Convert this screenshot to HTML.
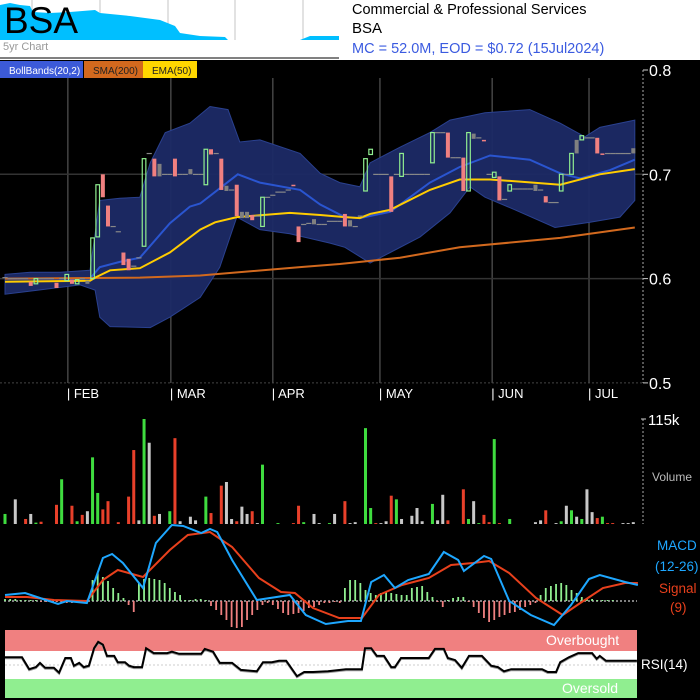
<!DOCTYPE html>
<html><head><meta charset="utf-8"><style>
html,body{margin:0;padding:0;background:#000;}
svg{display:block;font-family:"Liberation Sans",sans-serif;}
</style></head><body>
<svg id="c" width="700" height="700" viewBox="0 0 700 700" xmlns="http://www.w3.org/2000/svg">
<rect x="0" y="0" width="700" height="60" fill="#fff"/>
<rect x="0" y="60" width="700" height="640" fill="#000"/>
<g id="spark"></g>
<text x="4" y="33" font-size="37" fill="#000">BSA</text>
<text x="3" y="50" font-size="11" fill="#999">5yr Chart</text>
<text x="352" y="14" font-size="14.5" fill="#000">Commercial &amp; Professional Services</text>
<text x="352" y="33" font-size="15" fill="#000">BSA</text>
<text x="352" y="53" font-size="14.5" fill="#3b5be0">MC = 52.0M, EOD = $0.72 (15Jul2024)</text>
<g id="legend">
<rect x="0" y="61" width="83" height="17" fill="#3c5ad8"/>
<text x="9" y="74" font-size="10" fill="#fff">BollBands(20,2)</text>
<rect x="84" y="61" width="59" height="17" fill="#d2691e"/>
<text x="93" y="74" font-size="10" fill="#222">SMA(200)</text>
<rect x="143" y="61" width="54" height="17" fill="#ffd700"/>
<text x="152" y="74" font-size="10" fill="#222">EMA(50)</text>
</g>
<g id="grid"></g>
<g id="main"></g>
<g id="vol"></g>
<g id="macd"></g>
<g id="rsi"></g>
</svg>
<script>
// ---------- DATA ----------
const monthLabels = ["FEB","MAR","APR","MAY","JUN","JUL"];
const monthDays = [12.2,32.2,52.0,72.8,94.6,113.4];
const priceTicks = [0.8,0.7,0.6,0.5];
const opens = [.601,.600,.600,.600,.600,.597,.595,.600,.600,.600,.596,.600,.598,.599,.595,.600,.598,.600,.640,.700,.670,.650,.645,.625,.619,.612,.620,.631,.720,.715,.710,.700,.700,.715,.700,.700,.705,.700,.700,.690,.724,.720,.715,.689,.685,.690,.664,.664,.661,.660,.650,.678,.680,.683,.683,.685,.690,.650,.652,.653,.657,.652,.652,.655,.655,.655,.662,.656,.650,.660,.684,.719,.700,.700,.700,.698,.700,.698,.700,.700,.700,.700,.700,.711,.740,.740,.740,.716,.716,.716,.684,.739,.735,.733,.700,.697,.698,.676,.684,.686,.686,.686,.686,.690,.685,.679,.673,.673,.684,.700,.700,.720,.733,.735,.735,.735,.720,.720,.720,.720,.720,.720,.720];
const closes = [.601,.600,.600,.600,.600,.593,.600,.600,.600,.600,.591,.600,.604,.595,.599,.600,.595,.639,.690,.678,.650,.650,.645,.613,.608,.612,.620,.715,.720,.698,.698,.700,.700,.698,.700,.700,.700,.700,.700,.724,.719,.720,.685,.684,.685,.660,.658,.658,.656,.660,.678,.678,.680,.683,.683,.685,.689,.635,.652,.653,.652,.652,.652,.655,.655,.655,.650,.650,.650,.660,.715,.724,.700,.700,.700,.664,.700,.720,.700,.700,.700,.700,.700,.740,.740,.740,.716,.716,.716,.684,.740,.734,.735,.733,.700,.702,.675,.676,.690,.686,.686,.686,.686,.684,.685,.673,.673,.673,.700,.700,.720,.733,.737,.735,.735,.720,.720,.720,.720,.720,.720,.720,.725];
const candleColors = ("nnnnnrgnnn"+"rngrgnnggr"+"rnnrrnngnr"+"nnnrnnnnng"+"rnrnnrnnrn"+"gnnnnnrrnn"+"nnnnnnrnnn"+"ggnnnrngnn"+"nnngnnrnnr"+"gnnrngrngn"+"nnnnnrnngn"+"gngnnrrnnn"+"nnn").split("");
const upperDay = [0,4.9,10.7,16.5,18.4,22.3,26.2,28.2,31.1,35.9,39.8,43.3,45.6,49.5,57.3,61.2,65.0,68.9,70.9,76.7,82.5,86.4,93.2,101.9,107.8,112.6,115.5,122.3];
const upperVal = [.604,.606,.606,.608,.675,.677,.678,.711,.740,.749,.765,.762,.731,.733,.720,.701,.692,.688,.711,.726,.740,.752,.759,.762,.749,.736,.745,.752];
const lowerDay = [0,4.9,14.6,17.5,18.4,20.4,28.2,32.0,37.9,41.7,45.0,49.5,55.3,63.1,66.0,70.9,74.8,80.6,86.4,90.3,93.2,99.0,106.8,113.6,119.4,122.3];
const lowerVal = [.585,.588,.594,.589,.563,.554,.553,.563,.582,.611,.659,.647,.643,.634,.630,.615,.625,.640,.663,.688,.678,.666,.649,.654,.659,.675];
const midDay = [0,16.5,18.4,22.3,26.2,32.0,35.9,37.9,45.2,49.5,57.3,61.2,66.0,68.9,74.8,82.5,88.3,94.2,101.9,107.8,111.7,117.5,122.3];
const midVal = [.600,.600,.611,.616,.620,.653,.669,.672,.700,.692,.685,.671,.659,.658,.664,.692,.707,.718,.714,.701,.696,.704,.714];
const emaDay = [0,16.5,17.5,20.4,26.2,32.0,37.9,40.8,45.0,55.3,61.2,66.0,68.9,70.9,74.8,82.5,88.3,94.2,100.0,107.8,115.5,122.3];
const emaVal = [.597,.598,.601,.608,.610,.625,.647,.654,.659,.663,.661,.659,.658,.662,.666,.685,.695,.695,.693,.690,.700,.705];
const smaDay = [0,26.2,37.9,57.3,65.0,76.7,88.3,107.8,122.3];
const smaVal = [.600,.601,.603,.611,.614,.620,.630,.639,.649];
const volumes = [11,0,27,0,5.5,11,1.5,2.5,0,0,21,49,0,20,3,10,14,73,34,16,25,0,2,0,30,81,4,115,89,9,11,0,14,94,3,0,8,4,0,30,12,0,42,46,5.5,3,19,11,14,1,65,0,0,1,0,0,1,20,2,0,11,1,0,1,11,0,25,1,2,0,105,17.5,1,1,3,31,27,5.5,0,9,17.5,3,0,22,4,32,4,0,0,38,5.5,25,1,10,2,93,1,0,5.5,0,0,0,0,2,4,15,0,1,3,20,15,8,5.5,38,13,6.5,8,1,1,0,1,1,2];
const volColors = ("gnnnrngrnn"+"rgnrgrnggr"+"rnrnrrngnr"+"nngrnnnnng"+"rnrnnrnnrn"+"gnngnnrrgn"+"nnngnnrnnn"+"ggrnnrgnnn"+"nnngnnrnnr"+"gngrrgrngn"+"nnnnnrnngn"+"gngnnrgrrn"+"nnn").split("");
const macdDay = [0,3.9,6.8,10.3,12.0,15.9,19.0,20.8,22.9,26.8,29.3,32.4,34.6,38.1,39.8,41.2,44.1,48.9,55.3,58.4,62.3,66.6,69.1,71.1,73.6,75.7,78.3,82.3,85.2,88.0,89.1,93.0,94.4,97.9,102.1,106.6,109.9,113.4,115.5,120.4,122.9];
const macdVal = [0.6,0.8,0.3,-0.3,0.0,-0.2,4.3,4.7,3.8,1.3,5.8,7.6,7.5,6.8,7.2,6.9,4.1,0.1,0.6,-1.4,-2.3,-2.0,-2.0,1.9,2.6,1.3,2.1,2.7,4.9,4.1,3.0,4.5,4.2,0.0,-1.4,-2.4,-0.4,2.2,2.6,1.9,1.6];
const signalDay = [0,4.3,9.5,15.9,19.0,21.9,26.8,32.0,35.5,39.8,44.1,49.3,53.6,56.3,59.8,64.9,69.3,72.6,77.1,82.3,86.6,90.9,94.0,97.9,103.1,108.3,111.7,116.1,120.4,122.9];
const signalVal = [0.4,0.4,0.1,0.0,2.1,3.1,2.4,5.1,6.6,6.9,5.4,2.3,0.9,0.8,-0.7,-1.7,-1.7,0.6,1.6,2.3,3.6,3.8,4.0,2.8,0.3,-1.4,-0.2,1.3,1.8,1.8];
const histVal = [2,2,2,1,1,1,1,-1,-1,-1,-1,-1,-2,-2,-2,-1,-1,21,28,24,20,13,8,3,-4,-11,18,22,23,22,21,18,13,9,6,1,1,2,2,1,-5,-9,-14,-19,-26,-27,-26,-19,-14,-9,-4,-2,-4,-8,-12,-14,-13,-12,-10,-7,-6,-4,-2,-2,-1,-2,13,21,21,18,11,8,6,8,9,8,7,6,6,13,14,15,9,4,-1,-6,1,3,4,4,-1,-6,-12,-17,-21,-19,-16,-14,-12,-11,-9,-6,-4,-2,6,13,15,17,18,16,11,8,4,3,2,1,1,1,1,0,0,0,0];
const rsiDay = [0,3.3,4.7,6.0,6.8,7.8,9.5,10.5,11.7,12.8,13.4,14.4,15.3,16.3,17.3,18.1,19.0,19.8,21.2,21.9,23.3,24.1,25.0,26.6,27.4,28.9,31.5,32.4,33.8,38.1,38.8,40.4,41.7,44.1,45.8,48.9,50.1,51.8,53.2,54.6,56.7,58.1,59.8,62.7,66.2,68.3,69.3,69.9,71.1,72.2,73.6,75.0,75.7,76.9,82.3,83.5,85.2,86.0,87.4,88.7,90.1,92.6,94.4,95.7,96.9,98.3,104.3,105.4,107.0,107.8,109.5,111.3,114.0,114.9,115.5,116.7,122.7];
const rsiVal = [61,61,44,47,53,46,46,39,60,60,49,53,47,49,74,83,79,63,63,54,54,49,47,47,74,67,67,69,66,66,73,69,53,53,43,41,54,54,56,56,34,40,40,41,44,44,44,74,74,63,63,47,47,60,60,73,73,60,57,46,63,63,49,47,41,44,44,40,40,54,61,67,67,59,63,56,56];
const sparkX = [0,10,20,30,33,50,70,95,100,130,160,175,180,200,225,228,300,310,339];
const sparkY = [5,3,5,6,12,13,12,10,13,16,20,26,33,36,37,40,40,36,36];

// ---------- SCALES ----------
const NS="http://www.w3.org/2000/svg";
const xs = d => 5 + d*5.15;
const yp = v => 70 + (0.8 - v)*1043;
const yv = v => 524 - v/115*105;
const ym = v => 601 - v*10;
const yh = v => 601 - v;
const yr = v => 665 - (v-50)*0.7;
function mk(parent, tag, attrs){const e=document.createElementNS(NS,tag);for(const k in attrs)e.setAttribute(k,attrs[k]);document.getElementById(parent).appendChild(e);return e;}
function pts(days, vals, fy){return days.map((d,i)=>xs(d).toFixed(1)+","+fy(vals[i]).toFixed(1)).join(" ");}

// sparkline
{
  const gl=[32,100,168,235,303];
  gl.forEach(x=>{const l=mk('spark','line',{x1:x,y1:0,x2:x,y2:40,stroke:'#d8d8d8','stroke-width':1.5});
    
    });
  let p="0,40 "+sparkX.map((x,i)=>x+","+sparkY[i]).join(" ")+" 339,40";
  const a=mk('spark','polygon',{points:p,fill:'#00bfff'});
  
  
  const b=mk('spark','line',{x1:0,y1:58,x2:339,y2:58,stroke:'#000','stroke-width':1});
  
  
}

// grid
monthDays.forEach((d,i)=>{
  const x=xs(d);
  const l=mk('grid','line',{x1:x,y1:78,x2:x,y2:383,stroke:'#444','stroke-width':1.5});
  
  
  const t=mk('grid','text',{x:x-1,y:398,fill:'#fff','font-size':13});
  t.textContent="| "+monthLabels[i];
  
  
});
priceTicks.forEach(v=>{
  const y=yp(v);
  if(v<0.8&&v>0.5){const l=mk('grid','line',{x1:0,y1:y,x2:643,y2:y,stroke:'#333','stroke-width':1.5});
    
    }
  if(v==0.5){const l=mk('grid','line',{x1:0,y1:y,x2:643,y2:y,stroke:'#444','stroke-width':1,'stroke-dasharray':'2,2'});
    
    }
  const tk=mk('grid','line',{x1:643,y1:y,x2:648,y2:y,stroke:'#ccc','stroke-width':1});
  
  
  const t=mk('grid','text',{x:649,y:y+6,fill:'#fff','font-size':16});
  t.textContent=v.toFixed(1);
  
  
});
{const l=mk('grid','line',{x1:643,y1:70,x2:643,y2:383,stroke:'#aaa','stroke-width':1,'stroke-dasharray':'2,2'});
 
 }

// bollinger band
{
  const up=upperDay.map((d,i)=>xs(d).toFixed(1)+","+yp(upperVal[i]).toFixed(1));
  const lo=lowerDay.map((d,i)=>xs(d).toFixed(1)+","+yp(lowerVal[i]).toFixed(1)).reverse();
  const b=mk('main','polygon',{points:up.concat(lo).join(" "),fill:'#1c2a66',stroke:'#2a418f','stroke-width':1,'fill-opacity':0.95});
  
  
  const m=mk('main','polyline',{points:pts(midDay,midVal,yp),fill:'none',stroke:'#2a55d0','stroke-width':2});
  
  
  const s=mk('main','polyline',{points:pts(smaDay,smaVal,yp),fill:'none',stroke:'#d2691e','stroke-width':2});
  
  
  const e=mk('main','polyline',{points:pts(emaDay,emaVal,yp),fill:'none',stroke:'#ffcc00','stroke-width':2});
  
  
}
// candles
opens.forEach((o,i)=>{
  const c=closes[i], col=candleColors[i], x=xs(i);
  const top=yp(Math.max(o,c)), bot=yp(Math.min(o,c));
  const h=Math.max(bot-top,1.5);
  let r;
  if(col==='g'){
    r=mk('main','rect',{x:x-1.8,y:top,width:3.6,height:h,fill:'none',stroke:'#90ee90','stroke-width':1.2});
  } else if(col==='r'){
    r=mk('main','rect',{x:x-2,y:top,width:4,height:h,fill:'#f08080'});
  } else {
    if(h<2){r=mk('main','rect',{x:x-2.6,y:top-0.5,width:5.2,height:1.2,fill:'#888'});}
    else r=mk('main','rect',{x:x-2,y:top,width:4,height:h,fill:'#808080'});
  }
  
  
});

// volume
volumes.forEach((v,i)=>{
  if(v<=0)return;
  const c=volColors[i]==='g'?'#3fdc3f':volColors[i]==='r'?'#e8402a':'#c8c8c8';
  const r=mk('vol','rect',{x:xs(i)-1.5,y:yv(v),width:3,height:524-yv(v),fill:c});
  
  
});
{
  const l=mk('vol','line',{x1:643,y1:419,x2:643,y2:524,stroke:'#aaa','stroke-width':1,'stroke-dasharray':'2,2'});
  
  
  const tk=mk('vol','line',{x1:641,y1:yv(115),x2:646,y2:yv(115),stroke:'#ccc'});
  
  
  const t=mk('vol','text',{x:648,y:425,fill:'#fff','font-size':15});
  t.textContent="115k";
  
  
  const t2=mk('vol','text',{x:652,y:481,fill:'#bbb','font-size':12});
  t2.textContent="Volume";
  
  
}

// macd
{
  const z=mk('macd','line',{x1:4,y1:601,x2:637,y2:601,stroke:'#aaa','stroke-width':1.5,'stroke-dasharray':'2,2'});
  
  
  histVal.forEach((v,i)=>{
    if(v===0)return;
    const y=Math.min(yh(v),601), h=Math.abs(v);
    const r=mk('macd','rect',{x:xs(i)-0.9,y:y,width:1.8,height:h,fill:v>0?'#90ee90':'#f08080'});
    
    
  });
  const s=mk('macd','polyline',{points:pts(signalDay,signalVal,ym),fill:'none',stroke:'#e8401c','stroke-width':2});
  
  
  const m=mk('macd','polyline',{points:pts(macdDay,macdVal,ym),fill:'none',stroke:'#1ea7ff','stroke-width':2});
  
  
  const labs=[["MACD",550,'#1ea7ff',657],["(12-26)",571,'#1ea7ff',655],["Signal",593,'#e8401c',659],["(9)",612,'#e8401c',670]];
  labs.forEach(l=>{const t=mk('macd','text',{x:l[3],y:l[1],fill:l[2],'font-size':13.5});
    t.textContent=l[0];
    
    });
}

// rsi
{
  const ob=mk('rsi','rect',{x:5,y:630,width:632,height:21,fill:'#f08080'});
  
  
  const mid=mk('rsi','rect',{x:5,y:651,width:632,height:28,fill:'#fff'});
  
  
  const os=mk('rsi','rect',{x:5,y:679,width:632,height:19,fill:'#90ee90'});
  
  
  const cl=mk('rsi','line',{x1:5,y1:665,x2:637,y2:665,stroke:'#ccc','stroke-dasharray':'2,2'});
  
  
  const t1=mk('rsi','text',{x:546,y:645,fill:'#fff','font-size':14});
  t1.textContent="Overbought";
  
  
  const t2=mk('rsi','text',{x:562,y:693,fill:'#fff','font-size':14});
  t2.textContent="Oversold";
  
  
  const sh=mk('rsi','polyline',{points:pts(rsiDay,rsiVal,v=>yr(v)+1),fill:'none',stroke:'#999','stroke-width':2});
  
  
  const l=mk('rsi','polyline',{points:pts(rsiDay,rsiVal,yr),fill:'none',stroke:'#000','stroke-width':2});
  
  
  const t3=mk('rsi','text',{x:641,y:669,fill:'#fff','font-size':13.5});
  t3.textContent="RSI(14)";
  
  
}
</script>
</body></html>
